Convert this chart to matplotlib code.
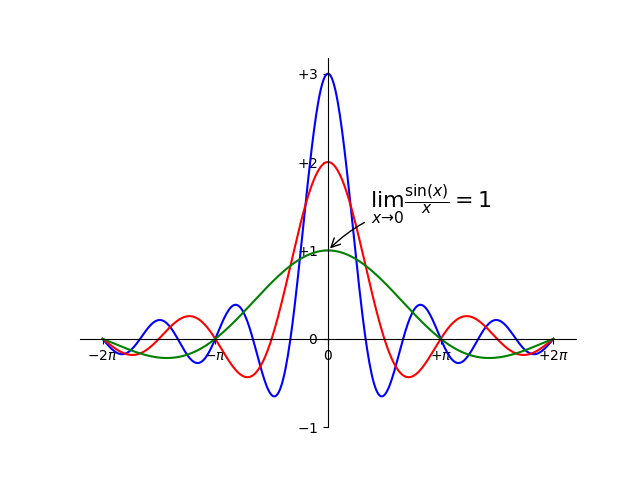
import numpy as np
import matplotlib.pyplot as plt

# Courbes sin(k*x)/x : une par multiplicateur
multipliers = [3, 2, 1]
colors = ["blue", "red", "green"]

x_ticks = [-2 * np.pi, -np.pi, 0, np.pi, 2 * np.pi]
x_labels = [r"$-2\pi$", r"$-\pi$", r"$0$", r"$+\pi$", r"$+2\pi$"]
y_ticks = [-1, 0, 1, 2, 3]
y_labels = [r"$-1$", r"$0$", r"$+1$", r"$+2$", r"$+3$"]

x = np.linspace(-2 * np.pi, 2 * np.pi, 400)

fig = plt.figure(figsize=(6.4, 4.8), dpi=100)
ax = plt.gca()

for k, c in zip(multipliers, colors):
    ax.plot(x, np.sin(k * x) / x, color=c, linewidth=1.5)

# Axes centrés
ax.spines["right"].set_color("none")
ax.spines["top"].set_color("none")
ax.xaxis.set_ticks_position("bottom")
ax.spines["bottom"].set_position(("data", 0))
ax.yaxis.set_ticks_position("left")
ax.spines["left"].set_position(("data", 0))

ax.set_xticks(x_ticks, x_labels)
ax.set_yticks(y_ticks, y_labels)

ax.annotate(r"$\lim_{x\to 0}\frac{\sin(x)}{x}= 1$", xy=(0, 1), xycoords="data",
            xytext=(30, 30), textcoords="offset points", fontsize=16,
            arrowprops=dict(arrowstyle="->", connectionstyle="arc3,rad=.2"))

fig.savefig("out.png")
